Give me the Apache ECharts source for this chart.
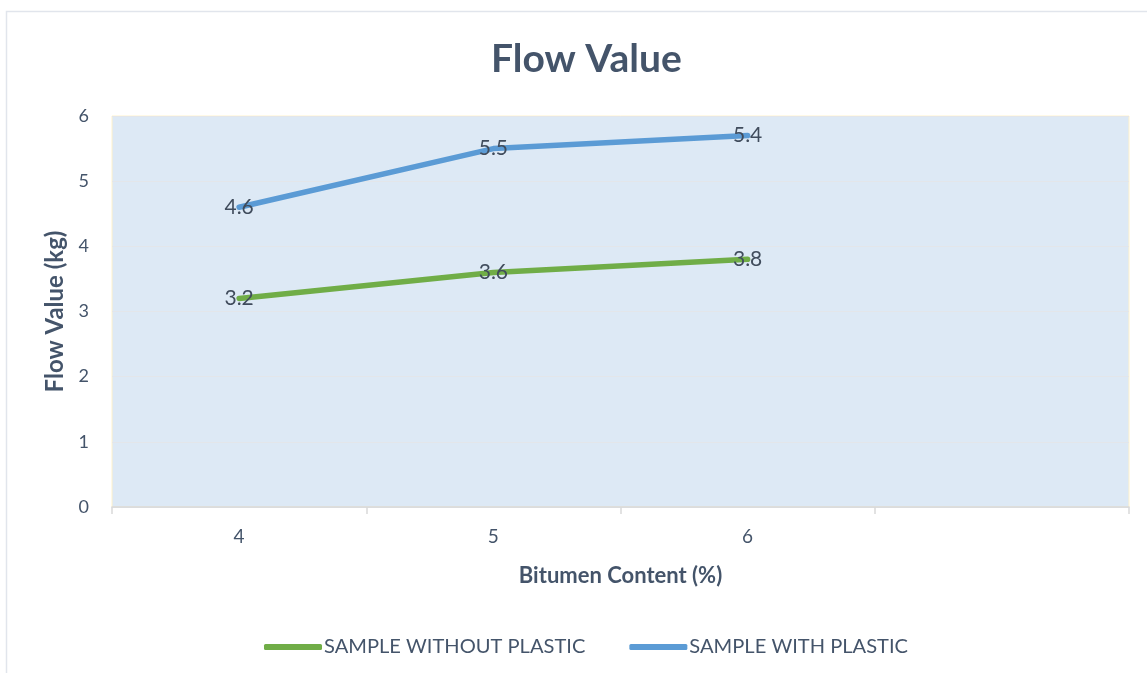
<!DOCTYPE html>
<html>
<head>
<meta charset="utf-8">
<script src="https://cdn.jsdelivr.net/npm/echarts@6/dist/echarts.min.js"></script>
<style>
html,body{margin:0;padding:0;background:#fff;}
#c{width:1147px;height:673px;}
</style>
</head>
<body>
<div id="c"></div>
<script>
var categories = ['4', '5', '6', ''];
var withoutPlastic = [3.2, 3.6, 3.8];
var withPlastic = [4.6, 5.5, 5.7];
var withoutPlasticLabels = ['3.2', '3.6', '3.8'];
var withPlasticLabels = ['4.6', '5.5', '5.4'];
var yTicks = [0, 1, 2, 3, 4, 5, 6];

var FONT = 'Lato';
var TXT = '#44546a';

var chart = echarts.init(document.getElementById('c'), null, {renderer: 'canvas'});

function mkSeries(name, data, labels, color) {
  return {
    name: name,
    type: 'line',
    data: data,
    symbol: 'circle',
    symbolSize: 0.1,
    showSymbol: true,
    itemStyle: {color: color},
    lineStyle: {color: color, width: 5.5, cap: 'round', join: 'round'},
    label: {
      show: true,
      position: 'inside',
      color: '#404c5c',
      fontFamily: FONT,
      fontSize: 21,
      formatter: function (p) { return labels[p.dataIndex]; }
    },
    emphasis: {disabled: true},
    animation: false
  };
}

chart.setOption({
  animation: false,
  backgroundColor: '#fff',
  graphic: [{
    type: 'rect',
    shape: {x: 6.5, y: 11.5, width: 1160, height: 700},
    style: {fill: 'none', stroke: '#e1e5ec', lineWidth: 1.5},
    silent: true, z: -10
  }],
  title: {
    text: 'Flow Value',
    left: 486,
    top: 35,
    textStyle: {fontFamily: FONT, fontWeight: 'bold', fontSize: 39, color: TXT}
  },
  grid: {
    left: 112, right: 18, top: 116, bottom: 166,
    show: true,
    backgroundColor: '#dde9f5',
    borderColor: '#fff2cc',
    borderWidth: 1
  },
  legend: {
    left: 259,
    top: 632,
    icon: 'roundRect',
    itemWidth: 58,
    itemHeight: 6,
    itemGap: 44,
    textStyle: {fontFamily: FONT, fontSize: 20.1, color: TXT, padding: [0, 0, 0, -3]},
    data: ['SAMPLE WITHOUT PLASTIC', 'SAMPLE WITH PLASTIC']
  },
  xAxis: {
    type: 'category',
    data: categories,
    boundaryGap: true,
    name: 'Bitumen Content (%)',
    nameLocation: 'middle',
    nameGap: 58,
    nameTextStyle: {fontFamily: FONT, fontWeight: 'bold', fontSize: 22, color: TXT},
    axisLine: {show: true, lineStyle: {color: '#d9d9d9', width: 1.5}},
    axisTick: {show: true, length: 7, alignWithLabel: false, lineStyle: {color: '#d9d9d9', width: 1.5}},
    axisLabel: {fontFamily: FONT, fontSize: 19, color: TXT, margin: 20},
    splitLine: {show: false}
  },
  yAxis: {
    type: 'value',
    min: 0, max: 6, interval: 1,
    name: 'Flow Value (kg)',
    nameLocation: 'middle',
    nameGap: 43,
    nameRotate: 90,
    nameTextStyle: {fontFamily: FONT, fontWeight: 'bold', fontSize: 24, color: TXT},
    axisLine: {show: false},
    axisTick: {show: false},
    axisLabel: {
      fontFamily: FONT, fontSize: 18, color: TXT, margin: 23,
      formatter: function (v) { return yTicks.indexOf(v) >= 0 ? String(v) : ''; }
    },
    splitLine: {show: true, lineStyle: {color: '#e3e6ea', width: 1}}
  },
  series: [
    mkSeries('SAMPLE WITHOUT PLASTIC', withoutPlastic, withoutPlasticLabels, '#70ad47'),
    mkSeries('SAMPLE WITH PLASTIC', withPlastic, withPlasticLabels, '#5b9bd5')
  ]
});
</script>
</body>
</html>
